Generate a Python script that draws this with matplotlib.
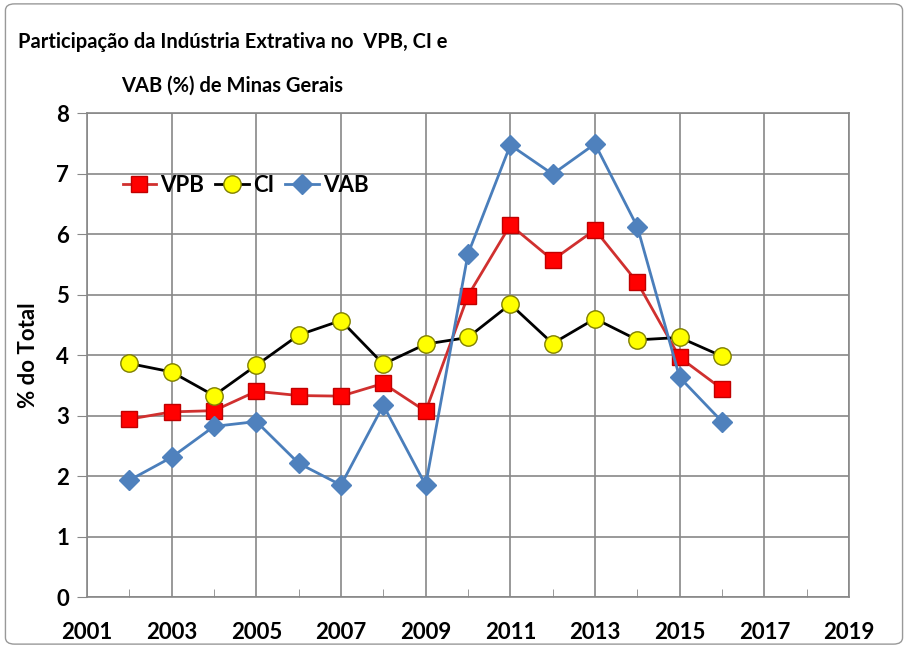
import numpy as np
import matplotlib.pyplot as plt
from matplotlib.patches import FancyBboxPatch

plt.rcParams['font.family'] = ['Lato', 'DejaVu Sans']

# dados
anos = [2002, 2003, 2004, 2005, 2006, 2007, 2008, 2009,
        2010, 2011, 2012, 2013, 2014, 2015, 2016]
vpb = [2.94, 3.06, 3.08, 3.40, 3.33, 3.32, 3.53, 3.07,
       4.98, 6.15, 5.57, 6.07, 5.20, 3.96, 3.44]
ci = [3.86, 3.72, 3.33, 3.83, 4.33, 4.57, 3.85, 4.18,
      4.29, 4.84, 4.19, 4.60, 4.25, 4.29, 3.98]
vab = [1.93, 2.31, 2.82, 2.90, 2.21, 1.85, 3.17, 1.85,
       5.67, 7.47, 6.99, 7.49, 6.12, 3.63, 2.90]
xticks = list(range(2001, 2020, 2))
titulo1 = "Participação da Indústria Extrativa no  VPB, CI e"
titulo2 = "VAB (%) de Minas Gerais"

fig = plt.figure(figsize=(9.08, 6.48), dpi=100)
ax = fig.add_axes([0.0958, 0.0787, 0.8392, 0.7469])

ax.plot(anos, vpb, color='#D0302F', lw=2, marker='s', ms=12,
        mfc='#FF0000', mec='#C00000', label='VPB', zorder=3)
ax.plot(anos, ci, color='black', lw=2, marker='o', ms=12.5,
        mfc='#FFFF00', mec='#7F7F00', mew=1, label='CI', zorder=3)
ax.plot(anos, vab, color='#4A7EBB', lw=2, marker='D', ms=10.5,
        mfc='#4F81BD', mec='#4F81BD', label='VAB', zorder=3)

ax.set_xlim(2001, 2019)
ax.set_ylim(0, 8)
ax.set_xticks(xticks)
ax.set_xticks(range(2002, 2019, 2), minor=True)
ax.set_yticks(range(0, 9))
ax.grid(True, which='major', color='#888888', lw=1.2)
ax.tick_params(axis='x', which='major', length=0, pad=18)
ax.tick_params(axis='x', which='minor', direction='in', length=6, color='#888888')
ax.tick_params(axis='y', length=7, color='#888888', pad=6)
for lab in ax.get_xticklabels() + ax.get_yticklabels():
    lab.set_fontsize(16)
    lab.set_fontweight('bold')
for s in ax.spines.values():
    s.set_color('#888888')
    s.set_linewidth(1.2)

ax.set_ylabel('% do Total', fontsize=16, fontweight='bold', labelpad=12)

ax.legend(loc='upper left', bbox_to_anchor=(0.035, 0.89), ncol=3, frameon=False,
          prop={'weight': 'bold', 'size': 16}, handlelength=1.5,
          handletextpad=0.2, columnspacing=0.5, borderaxespad=0)

fig.text(0.256, 0.926, titulo1, ha='center', va='baseline', fontsize=14.5,
         fontweight='bold')
fig.text(0.256, 0.858, titulo2, ha='center', va='baseline', fontsize=14.5,
         fontweight='bold')

borda = FancyBboxPatch((0.006, 0.006), 0.988, 0.988, boxstyle='round,pad=0,rounding_size=0.01',
                       transform=fig.transFigure, fill=False, ec='#999999', lw=1)
fig.patches.append(borda)

fig.savefig('out.png', dpi=100)
